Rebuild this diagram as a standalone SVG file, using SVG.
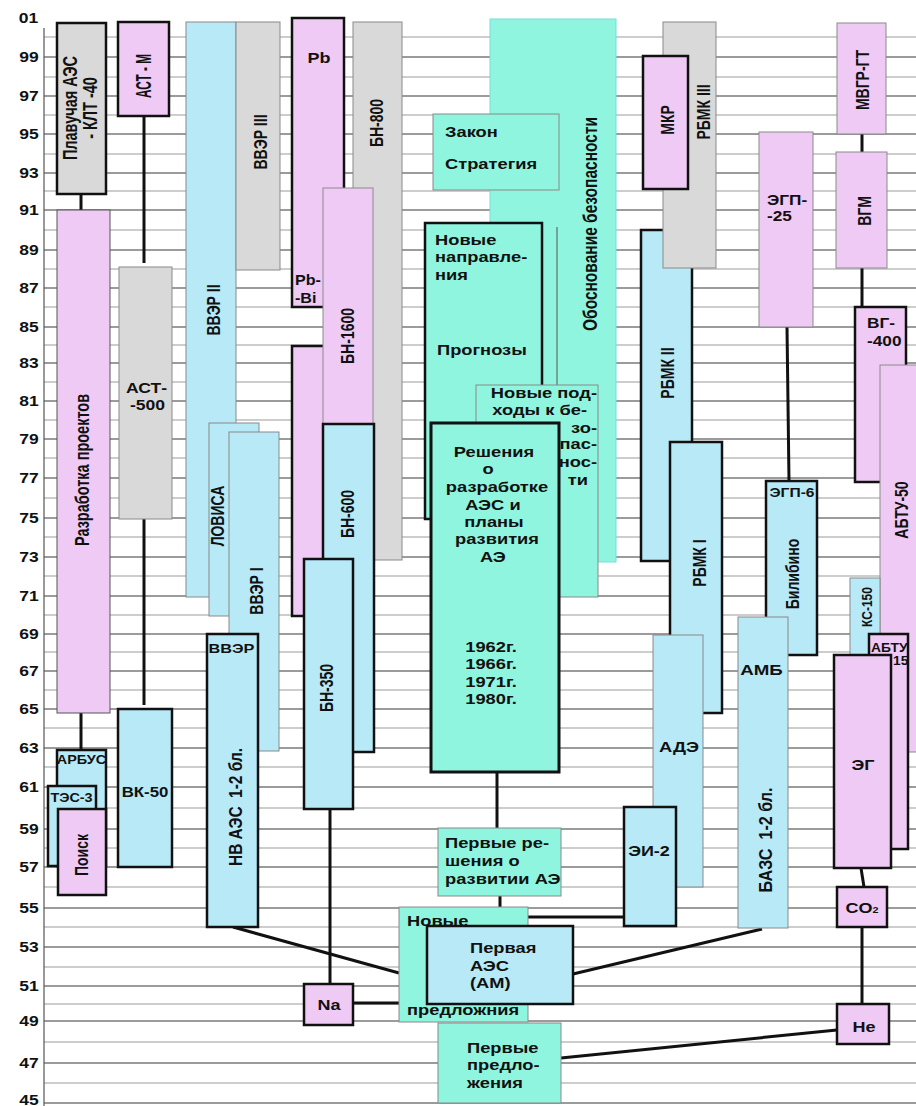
<svg xmlns="http://www.w3.org/2000/svg" width="916" height="1106" viewBox="0 0 916 1106">
<style>
.g1{stroke:#7a7a7a;stroke-width:1.3}
.g2{stroke:#9c9c9c;stroke-width:1.1}
.pk{fill:#EECAF5}
.gr{fill:#D9D9D9}
.bl{fill:#B7E9F7}
.mt{fill:#8FF5DF}
.tk{stroke:#111;stroke-width:2.5}
.tn{stroke:#8a8a8a;stroke-width:1}
text{font-family:"Liberation Sans",Arial,sans-serif;font-weight:bold;fill:#111;font-size:14px}
.f12{font-size:12px}
.f13{font-size:13px}
.f15{font-size:15px}
.m{text-anchor:middle}
.e{text-anchor:end}
.c{stroke:#111;stroke-width:3;fill:none}
.ax{font-size:15px}
</style>
<rect width="916" height="1106" fill="#fff"/>
<g id="grid">
<line class="g2" x1="44" y1="37" x2="916" y2="37"/>
<line class="g1" x1="44" y1="57" x2="916" y2="57"/>
<line class="g2" x1="44" y1="77" x2="916" y2="77"/>
<line class="g1" x1="44" y1="96" x2="916" y2="96"/>
<line class="g2" x1="44" y1="115" x2="916" y2="115"/>
<line class="g1" x1="44" y1="134" x2="916" y2="134"/>
<line class="g2" x1="44" y1="154" x2="916" y2="154"/>
<line class="g1" x1="44" y1="173" x2="916" y2="173"/>
<line class="g2" x1="44" y1="191" x2="916" y2="191"/>
<line class="g1" x1="44" y1="210" x2="916" y2="210"/>
<line class="g2" x1="44" y1="230" x2="916" y2="230"/>
<line class="g1" x1="44" y1="250" x2="916" y2="250"/>
<line class="g2" x1="44" y1="269" x2="916" y2="269"/>
<line class="g1" x1="44" y1="288" x2="916" y2="288"/>
<line class="g2" x1="44" y1="307" x2="916" y2="307"/>
<line class="g1" x1="44" y1="327" x2="916" y2="327"/>
<line class="g2" x1="44" y1="345" x2="916" y2="345"/>
<line class="g1" x1="44" y1="363" x2="916" y2="363"/>
<line class="g2" x1="44" y1="382" x2="916" y2="382"/>
<line class="g1" x1="44" y1="401" x2="916" y2="401"/>
<line class="g2" x1="44" y1="420" x2="916" y2="420"/>
<line class="g1" x1="44" y1="439" x2="916" y2="439"/>
<line class="g2" x1="44" y1="458" x2="916" y2="458"/>
<line class="g1" x1="44" y1="478" x2="916" y2="478"/>
<line class="g2" x1="44" y1="498" x2="916" y2="498"/>
<line class="g1" x1="44" y1="518" x2="916" y2="518"/>
<line class="g2" x1="44" y1="537" x2="916" y2="537"/>
<line class="g1" x1="44" y1="557" x2="916" y2="557"/>
<line class="g2" x1="44" y1="576" x2="916" y2="576"/>
<line class="g1" x1="44" y1="596" x2="916" y2="596"/>
<line class="g2" x1="44" y1="615" x2="916" y2="615"/>
<line class="g1" x1="44" y1="634" x2="916" y2="634"/>
<line class="g2" x1="44" y1="652" x2="916" y2="652"/>
<line class="g1" x1="44" y1="671" x2="916" y2="671"/>
<line class="g2" x1="44" y1="690" x2="916" y2="690"/>
<line class="g1" x1="44" y1="709" x2="916" y2="709"/>
<line class="g2" x1="44" y1="728" x2="916" y2="728"/>
<line class="g1" x1="44" y1="748" x2="916" y2="748"/>
<line class="g2" x1="44" y1="767" x2="916" y2="767"/>
<line class="g1" x1="44" y1="787" x2="916" y2="787"/>
<line class="g2" x1="44" y1="808" x2="916" y2="808"/>
<line class="g1" x1="44" y1="829" x2="916" y2="829"/>
<line class="g2" x1="44" y1="848" x2="916" y2="848"/>
<line class="g1" x1="44" y1="867" x2="916" y2="867"/>
<line class="g2" x1="44" y1="887" x2="916" y2="887"/>
<line class="g1" x1="44" y1="908" x2="916" y2="908"/>
<line class="g2" x1="44" y1="927" x2="916" y2="927"/>
<line class="g1" x1="44" y1="947" x2="916" y2="947"/>
<line class="g2" x1="44" y1="967" x2="916" y2="967"/>
<line class="g1" x1="44" y1="986" x2="916" y2="986"/>
<line class="g2" x1="44" y1="1004" x2="916" y2="1004"/>
<line class="g1" x1="44" y1="1021" x2="916" y2="1021"/>
<line class="g2" x1="44" y1="1042" x2="916" y2="1042"/>
<line class="g1" x1="44" y1="1063" x2="916" y2="1063"/>
<line class="g2" x1="44" y1="1083" x2="916" y2="1083"/>
<line class="g1" x1="44" y1="1103" x2="916" y2="1103"/>
<line stroke="#555" stroke-width="1.2" x1="44" y1="28" x2="44" y2="1106"/>
</g>
<g id="axis-labels" class="ax" transform="scale(1.25,1)">
<text x="15" y="23">01</text>
<text x="15.5" y="62.5">99</text>
<text x="15.5" y="101.5">97</text>
<text x="15.5" y="139.5">95</text>
<text x="15.5" y="178.5">93</text>
<text x="15.5" y="215.5">91</text>
<text x="15.5" y="255.5">89</text>
<text x="15.5" y="293.5">87</text>
<text x="15.5" y="332.5">85</text>
<text x="15.5" y="368.5">83</text>
<text x="15.5" y="406.5">81</text>
<text x="15.5" y="444.5">79</text>
<text x="15.5" y="483.5">77</text>
<text x="15.5" y="523.5">75</text>
<text x="15.5" y="562.5">73</text>
<text x="15.5" y="601.5">71</text>
<text x="15.5" y="639.5">69</text>
<text x="15.5" y="676.5">67</text>
<text x="15.5" y="714.5">65</text>
<text x="15.5" y="753.5">63</text>
<text x="15.5" y="792.5">61</text>
<text x="15.5" y="834.5">59</text>
<text x="15.5" y="872.5">57</text>
<text x="15.5" y="913.5">55</text>
<text x="15.5" y="952.5">53</text>
<text x="15.5" y="991.5">51</text>
<text x="15.5" y="1026.5">49</text>
<text x="15.5" y="1068">47</text>
<text x="15.5" y="1105">45</text>
</g>
<g id="connectors">
<line class="c" x1="81" y1="194" x2="81" y2="210"/>
<line class="c" x1="81" y1="713" x2="81" y2="750"/>
<line class="c" x1="144" y1="116" x2="144" y2="263"/>
<line class="c" x1="144" y1="519" x2="144" y2="705"/>
<line class="c" x1="330" y1="809" x2="330" y2="984"/>
<line class="c" x1="353" y1="1003" x2="399" y2="1003"/>
<line class="c" x1="497" y1="772" x2="497" y2="828"/>
<line class="c" x1="500" y1="896" x2="500" y2="907"/>
<line class="c" stroke-width="2.5" x1="233" y1="927" x2="399" y2="973"/>
<line class="c" x1="528" y1="917" x2="624" y2="917"/>
<line class="c" stroke-width="2.5" x1="573" y1="974" x2="762" y2="929"/>
<line class="c" stroke-width="2.5" x1="561" y1="1058" x2="837" y2="1030"/>
<line class="c" x1="787" y1="327" x2="789" y2="481"/>
<line class="c" x1="862" y1="134" x2="862" y2="152"/>
<line class="c" x1="862" y1="268" x2="862" y2="307"/>
<line class="c" x1="861" y1="868" x2="864" y2="887"/>
<line class="c" x1="862" y1="927" x2="862" y2="1004"/>
</g>
<g id="n-klt40"><rect class="gr tk" x="57" y="23" width="49" height="171"/>
<text transform="translate(76.5,108) rotate(-90) scale(1,1.35)" class="m" style="font-size:14.5px">Плавучая АЭС</text>
<text transform="translate(96.5,108) rotate(-90) scale(1,1.35)" class="m" style="font-size:14.5px">- КЛТ -40</text></g>
<g id="n-razrabotka"><rect class="pk" stroke="#555" stroke-width="1" x="57" y="210" width="53" height="503"/>
<text transform="translate(88.5,470) rotate(-90) scale(1,1.35)" class="m" style="font-size:14.5px">Разработка проектов</text></g>
<g id="n-arbus"><rect class="bl tk" x="57" y="750" width="49" height="116"/>
<text transform="translate(81.5,764) scale(1.2,1)" class="m f12">АРБУС</text></g>
<g id="n-tes3"><rect class="bl tk" x="48" y="786" width="48" height="80"/>
<text transform="translate(71.5,802) scale(1.2,1)" class="m f12">ТЭС-3</text></g>
<g id="n-poisk"><rect class="pk tk" x="58" y="809" width="48" height="86"/>
<text transform="translate(87.5,855) rotate(-90) scale(1,1.35)" class="m">Поиск</text></g>
<g id="n-astm"><rect class="pk tk" x="118" y="22" width="51" height="94"/>
<text transform="translate(151,76) rotate(-90) scale(1,1.45)" class="m f15" textLength="44" lengthAdjust="spacingAndGlyphs">АСТ - М</text></g>
<g id="n-ast500"><rect class="gr tn" x="119" y="267" width="53" height="252"/>
<text transform="translate(126,393) scale(1.17,1)" class="f15">АСТ-</text>
<text transform="translate(130,410) scale(1.17,1)" class="f15">-500</text></g>
<g id="n-vk50"><rect class="bl tk" x="118" y="709" width="54" height="158"/>
<text transform="translate(145,797) scale(1.12,1)" class="m f15">ВК-50</text></g>
<g id="n-vver2"><rect class="bl tn" stroke="#9cc" x="186" y="22" width="50" height="575"/>
<text transform="translate(219.5,310) rotate(-90) scale(1,1.35)" class="m">ВВЭР II</text></g>
<g id="n-vver3"><rect class="gr tn" x="236" y="22" width="44" height="248"/>
<text transform="translate(266.5,142) rotate(-90) scale(1,1.35)" class="m">ВВЭР III</text></g>
<g id="n-lovisa"><rect class="bl tn" x="209" y="423" width="50" height="193"/>
<text transform="translate(223.5,516) rotate(-90) scale(1,1.35)" class="m">ЛОВИСА</text></g>
<g id="n-vver1"><rect class="bl tn" x="229" y="432" width="50" height="319"/>
<text transform="translate(262.5,591) rotate(-90) scale(1,1.35)" class="m">ВВЭР I</text></g>
<g id="n-nvaes"><rect class="bl tk" x="207" y="634" width="51" height="293"/>
<text transform="translate(231.5,653) scale(1.25,1)" class="m f13">ВВЭР</text>
<text transform="translate(241.5,807) rotate(-90) scale(1,1.35)" class="m" textLength="118" lengthAdjust="spacingAndGlyphs">НВ АЭС&#160;&#160;1-2 бл.</text></g>
<g id="n-bn800"><rect class="gr tn" x="353" y="22" width="49" height="538"/>
<text transform="translate(382.5,123) rotate(-90) scale(1,1.35)" class="m">БН-800</text></g>
<g id="n-pb"><rect class="pk tk" x="292" y="18" width="52" height="289"/>
<text transform="translate(319,63) scale(1.2,1)" class="m f15">Pb</text>
<text transform="translate(295,285) scale(1.15,1)">Pb-</text>
<text transform="translate(295,303) scale(1.15,1)">-Bi</text></g>
<g id="n-pink2"><rect class="pk tk" x="292" y="346" width="40" height="270"/></g>
<g id="n-bn1600"><rect class="pk tn" x="323" y="188" width="50" height="236"/>
<text transform="translate(353.5,336) rotate(-90) scale(1,1.35)" class="m">БН-1600</text></g>
<g id="n-bn600"><rect class="bl tk" x="323" y="424" width="51" height="328"/>
<text transform="translate(353.5,514) rotate(-90) scale(1,1.35)" class="m">БН-600</text></g>
<g id="n-bn350"><rect class="bl tk" x="304" y="559" width="49" height="250"/>
<text transform="translate(332.5,688) rotate(-90) scale(1,1.35)" class="m">БН-350</text></g>
<g id="n-na"><rect class="pk tk" x="304" y="984" width="49" height="41"/>
<text transform="translate(329,1010) scale(1.2,1)" class="m f15">Na</text></g>
<g id="n-obosnovanie"><rect class="mt" stroke="#7dd" stroke-width="1" x="490" y="19" width="126" height="543"/>
<text transform="translate(597,224) rotate(-90) scale(1,1.35)" class="m" style="font-size:15.5px">Обоснование безопасности</text></g>
<g id="n-zakon"><rect class="mt tn" x="433" y="114" width="126" height="76"/>
<text transform="translate(445,137) scale(1.22,1)" class="f15">Закон</text>
<text transform="translate(445,169) scale(1.22,1)" class="f15">Стратегия</text></g>
<line stroke="#555" stroke-width="1" x1="557" y1="227" x2="557" y2="385"/>
<g id="n-napravleniya"><rect class="mt tk" x="425" y="223" width="117" height="296"/>
<text transform="translate(435,245) scale(1.22,1)" class="f15">Новые</text>
<text transform="translate(435,262) scale(1.22,1)" class="f15">направле-</text>
<text transform="translate(435,280) scale(1.22,1)" class="f15">ния</text>
<text transform="translate(437,355) scale(1.22,1)" class="f15">Прогнозы</text></g>
<g id="n-podhody"><rect class="mt tn" x="476" y="385" width="122" height="212"/>
<text transform="translate(597,398) scale(1.22,1)" class="e f15">Новые под-</text>
<text transform="translate(587,415) scale(1.22,1)" class="e f15">ходы к бе-</text>
<text transform="translate(597,433) scale(1.22,1)" class="e f15">зо-</text>
<text transform="translate(597,449) scale(1.22,1)" class="e f15">пас-</text>
<text transform="translate(597,467) scale(1.22,1)" class="e f15">нос-</text>
<text transform="translate(588,485) scale(1.22,1)" class="e f15">ти</text></g>
<g id="n-resheniya"><rect class="mt" stroke="#111" stroke-width="3" x="431" y="423" width="128" height="349"/>
<g class="m f15">
<text transform="translate(494,457) scale(1.22,1)" class="f15">Решения</text>
<text transform="translate(488,474) scale(1.22,1)" class="f15">о</text>
<text transform="translate(497,492) scale(1.22,1)" class="f15">разработке</text>
<text transform="translate(493,510) scale(1.22,1)" class="f15">АЭС и</text>
<text transform="translate(494,527) scale(1.22,1)" class="f15">планы</text>
<text transform="translate(497,544) scale(1.22,1)" class="f15">развития</text>
<text transform="translate(493,562) scale(1.22,1)" class="f15">АЭ</text>
<text transform="translate(491,652) scale(1.22,1)" class="f15">1962г.</text>
<text transform="translate(491,669) scale(1.22,1)" class="f15">1966г.</text>
<text transform="translate(491,687) scale(1.22,1)" class="f15">1971г.</text>
<text transform="translate(491,704) scale(1.22,1)" class="f15">1980г.</text>
</g></g>
<g id="n-pervye-resheniya"><rect class="mt tn" x="438" y="828" width="123" height="68"/>
<text transform="translate(445,848) scale(1.22,1)" class="f15">Первые ре-</text>
<text transform="translate(445,866) scale(1.22,1)" class="f15">шения о</text>
<text transform="translate(445,884) scale(1.22,1)" class="f15">развитии АЭ</text></g>
<g id="n-novye-predlozh"><rect class="mt tn" x="399" y="907" width="129" height="115"/>
<text transform="translate(407,926) scale(1.22,1)" class="f15">Новые</text>
<text transform="translate(407,1015) scale(1.22,1)" class="f15">предложния</text></g>
<g id="n-pervaya-aes"><rect class="bl tk" x="427" y="926" width="146" height="78"/>
<text transform="translate(470,953) scale(1.22,1)" class="f15">Первая</text>
<text transform="translate(470,971) scale(1.22,1)" class="f15">АЭС</text>
<text transform="translate(470,988) scale(1.22,1)" class="f15">(АМ)</text></g>
<g id="n-pervye-predl"><rect class="mt tn" x="438" y="1023" width="123" height="80"/>
<text transform="translate(467,1053) scale(1.22,1)" class="f15">Первые</text>
<text transform="translate(467,1070) scale(1.22,1)" class="f15">предло-</text>
<text transform="translate(467,1088) scale(1.22,1)" class="f15">жения</text></g>
<g id="n-rbmk2"><rect class="bl tk" x="641" y="230" width="51" height="331"/>
<text transform="translate(673.5,373) rotate(-90) scale(1,1.35)" class="m">РБМК II</text></g>
<g id="n-rbmk3"><rect class="gr tn" x="663" y="22" width="53" height="246"/>
<text transform="translate(709.5,112) rotate(-90) scale(1,1.35)" class="m">РБМК III</text></g>
<g id="n-mkr"><rect class="pk tk" x="643" y="56" width="45" height="133"/>
<text transform="translate(673.5,120) rotate(-90) scale(1,1.35)" class="m">МКР</text></g>
<g id="n-rbmk1"><rect class="bl tk" x="670" y="442" width="52" height="271"/>
<text transform="translate(705.5,563) rotate(-90) scale(1,1.35)" class="m">РБМК I</text></g>
<g id="n-ade"><rect class="bl tn" x="653" y="635" width="50" height="252"/>
<text transform="translate(679,752) scale(1.22,1)" class="m f15">АДЭ</text></g>
<g id="n-ei2"><rect class="bl tk" x="624" y="807" width="52" height="119"/>
<text transform="translate(649,856) scale(1.2,1)" class="m f15">ЭИ-2</text></g>
<g id="n-egp25"><rect class="pk tn" x="759" y="132" width="54" height="195"/>
<text transform="translate(767,205) scale(1.15,1)" class="f15">ЭГП-</text>
<text transform="translate(767,221) scale(1.15,1)" class="f15">-25</text></g>
<g id="n-bilibino"><rect class="bl tk" x="766" y="481" width="51" height="174"/>
<text transform="translate(792,497) scale(1.2,1)" class="m f13">ЭГП-6</text>
<text transform="translate(798.5,574) rotate(-90) scale(1,1.35)" class="m">Билибино</text></g>
<g id="n-amb"><rect class="bl tn" x="738" y="617" width="50" height="311"/>
<text transform="translate(761.5,675) scale(1.25,1)" class="m f15">АМБ</text>
<text transform="translate(771.5,840) rotate(-90) scale(1,1.35)" class="m" textLength="105" lengthAdjust="spacingAndGlyphs">БАЗС&#160;&#160;1-2 бл.</text></g>
<g id="n-mvgr"><rect class="pk tn" x="837" y="23" width="49" height="111"/>
<text transform="translate(868.5,80) rotate(-90) scale(1,1.35)" class="m">МВГР-ГТ</text></g>
<g id="n-vgm"><rect class="pk tn" x="836" y="152" width="51" height="116"/>
<text transform="translate(870.5,211) rotate(-90) scale(1,1.35)" class="m">ВГМ</text></g>
<g id="n-vg400"><rect class="pk tk" x="855" y="307" width="51" height="175"/>
<text transform="translate(867,328) scale(1.15,1)" class="f15">ВГ-</text>
<text transform="translate(867,346) scale(1.15,1)" class="f15">-400</text></g>
<g id="n-abtu50"><rect class="pk tn" x="880" y="365" width="40" height="387"/>
<text transform="translate(907.5,510) rotate(-90) scale(1,1.35)" class="m">АБТУ-50</text></g>
<g id="n-ks150"><rect class="bl tn" x="850" y="578" width="30" height="80"/>
<text transform="translate(872,607) rotate(-90) scale(1,1.2)" class="m f12">КС-150</text></g>
<g id="n-abtu15"><rect class="pk tk" x="869" y="634" width="39" height="215"/>
<text transform="translate(871,652) scale(1.15,1)" class="f12">АБТУ</text>
<text transform="translate(893,665) scale(1.15,1)" class="f12">15</text></g>
<g id="n-eg"><rect class="pk tk" x="834" y="655" width="57" height="213"/>
<text transform="translate(863,770) scale(1.2,1)" class="m f15">ЭГ</text></g>
<g id="n-co2"><rect class="pk tk" x="837" y="887" width="50" height="40"/>
<text transform="translate(862,913) scale(1.2,1)" class="m f15">CO<tspan style="font-size:9px">2</tspan></text></g>
<g id="n-he"><rect class="pk tk" x="837" y="1004" width="52" height="40"/>
<text transform="translate(864,1032) scale(1.2,1)" class="m f15">He</text></g>
</svg>
